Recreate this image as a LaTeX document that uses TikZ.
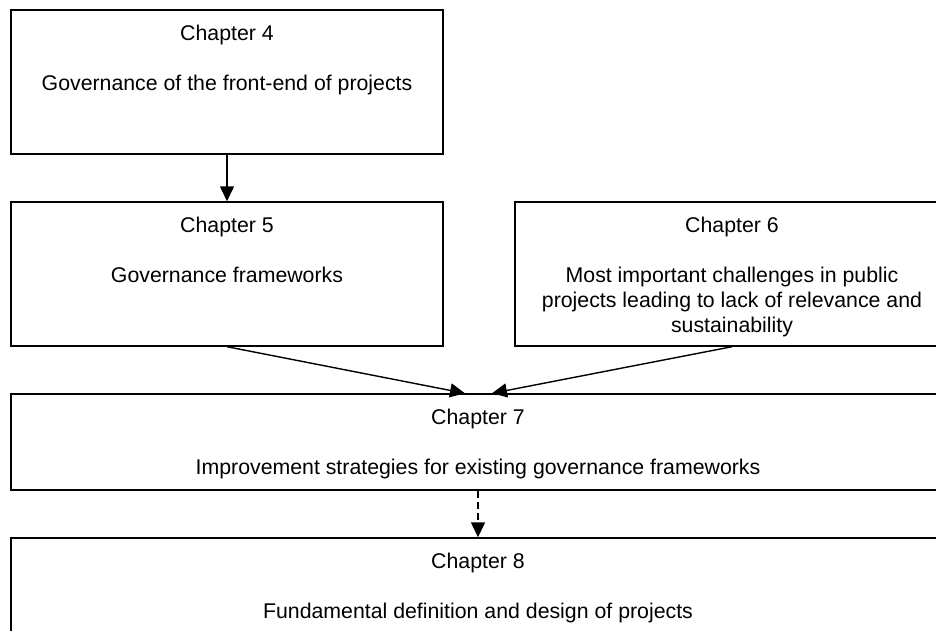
\documentclass[tikz,border=0pt]{standalone}
\usepackage{fontspec}
\setmainfont{Liberation Sans}
\usetikzlibrary{arrows.meta,calc}

\tikzset{
  chapbox/.style={draw=black, line width=1.4pt, rectangle, inner sep=0pt, fill=white},
  chaptext/.style={anchor=north, align=center, inner sep=0pt,
    font=\fontsize{21.3}{25}\selectfont},
  flow/.style={draw=black, line width=1.4pt,
    -{Triangle[length=15pt,width=14pt]}},
  softflow/.style={flow, dash pattern=on 7pt off 4pt}
}

\begin{document}
\begin{tikzpicture}[x=1pt, y=-1pt]
  \useasboundingbox (0,0) rectangle (936,630);
  \clip (0,0) rectangle (936,630);

  % chapter frames
  \node[chapbox, minimum width=432pt, minimum height=144pt] (b4) at (227,82) {};
  \node[chapbox, minimum width=432pt, minimum height=144pt] (b5) at (227,274) {};
  \node[chapbox, minimum width=434pt, minimum height=144pt] (b6) at (732,274) {};
  \node[chapbox, minimum width=934pt, minimum height=96pt] (b7) at (478,442) {};
  \node[chapbox, minimum width=934pt, minimum height=96pt] (b8) at (478,586) {};

  % chapter titles and topics
  \node[chaptext] (t4) at ($(b4.north)+(0,16)$)
    {Chapter 4\\[25pt]Governance of the front-end of projects};
  \node[chaptext] (t5) at ($(b5.north)+(0,16)$)
    {Chapter 5\\[25pt]Governance frameworks};
  \node[chaptext] (t6) at ($(b6.north)+(0,16)$)
    {Chapter 6\\[25pt]Most important challenges in public\\projects leading to lack of relevance and\\sustainability};
  \node[chaptext] (t7) at ($(b7.north)+(0,16)$)
    {Chapter 7\\[25pt]Improvement strategies for existing governance frameworks};
  \node[chaptext] (t8) at ($(b8.north)+(0,16)$)
    {Chapter 8\\[25pt]Fundamental definition and design of projects};

  % connectors
  \coordinate (in7a) at ($(b7.north)+(-13,0)$);
  \coordinate (in7b) at ($(b7.north)+(14,0)$);
  \draw[flow] (b4.south) -- (b5.north);
  \draw[flow] (b5.south) -- (in7a);
  \draw[flow] (b6.south) -- (in7b);
  \draw[softflow] (b7.south) -- (b8.north);
\end{tikzpicture}
\end{document}
